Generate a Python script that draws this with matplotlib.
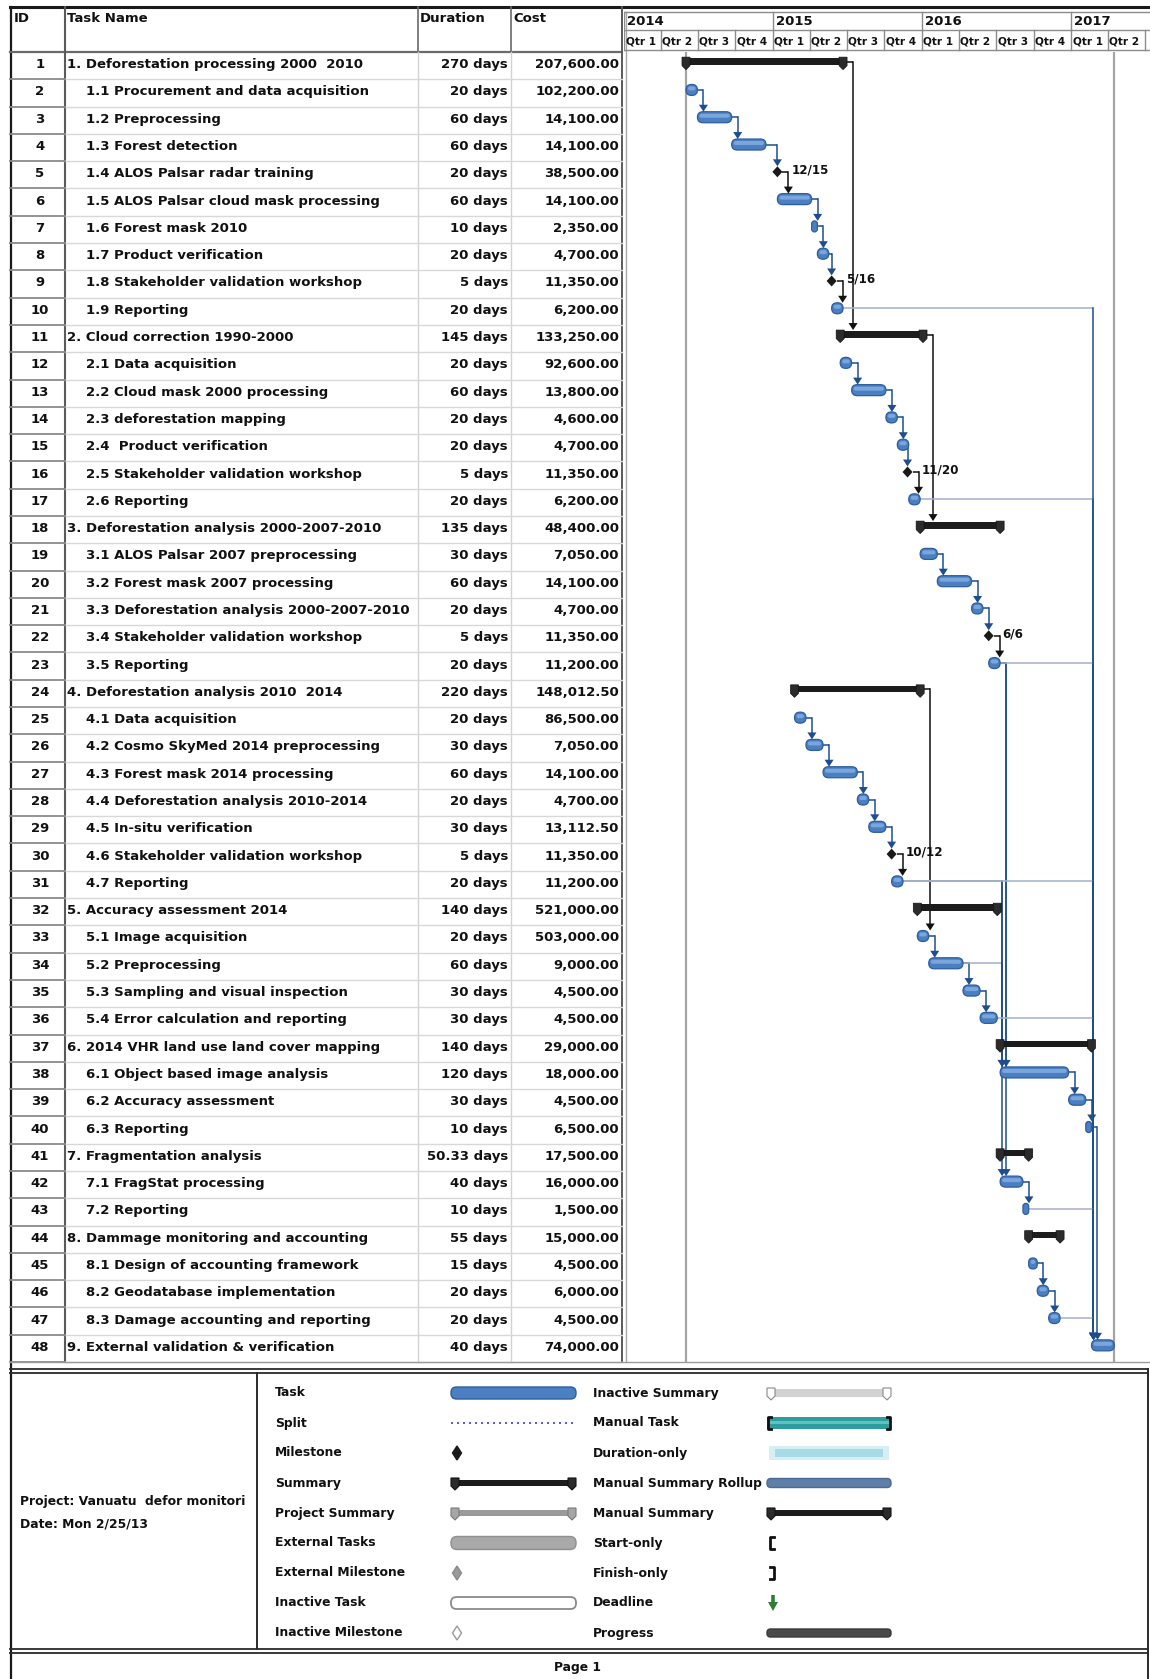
import numpy as np
import matplotlib
matplotlib.use("Agg")
import matplotlib.pyplot as plt
from matplotlib.patches import Polygon, Rectangle, FancyBboxPatch

plt.rcParams['font.family'] = ['DejaVu Sans']

# ---------------- data ----------------
task_names = [
    "1. Deforestation processing 2000  2010",
    "1.1 Procurement and data acquisition",
    "1.2 Preprocessing",
    "1.3 Forest detection",
    "1.4 ALOS Palsar radar training",
    "1.5 ALOS Palsar cloud mask processing",
    "1.6 Forest mask 2010",
    "1.7 Product verification",
    "1.8 Stakeholder validation workshop",
    "1.9 Reporting",
    "2. Cloud correction 1990-2000",
    "2.1 Data acquisition",
    "2.2 Cloud mask 2000 processing",
    "2.3 deforestation mapping",
    "2.4  Product verification",
    "2.5 Stakeholder validation workshop",
    "2.6 Reporting",
    "3. Deforestation analysis 2000-2007-2010",
    "3.1 ALOS Palsar 2007 preprocessing",
    "3.2 Forest mask 2007 processing",
    "3.3 Deforestation analysis 2000-2007-2010",
    "3.4 Stakeholder validation workshop",
    "3.5 Reporting",
    "4. Deforestation analysis 2010  2014",
    "4.1 Data acquisition",
    "4.2 Cosmo SkyMed 2014 preprocessing",
    "4.3 Forest mask 2014 processing",
    "4.4 Deforestation analysis 2010-2014",
    "4.5 In-situ verification",
    "4.6 Stakeholder validation workshop",
    "4.7 Reporting",
    "5. Accuracy assessment 2014",
    "5.1 Image acquisition",
    "5.2 Preprocessing",
    "5.3 Sampling and visual inspection",
    "5.4 Error calculation and reporting",
    "6. 2014 VHR land use land cover mapping",
    "6.1 Object based image analysis",
    "6.2 Accuracy assessment",
    "6.3 Reporting",
    "7. Fragmentation analysis",
    "7.1 FragStat processing",
    "7.2 Reporting",
    "8. Dammage monitoring and accounting",
    "8.1 Design of accounting framework",
    "8.2 Geodatabase implementation",
    "8.3 Damage accounting and reporting",
    "9. External validation & verification",
]
levels = [0, 1, 1, 1, 1, 1, 1, 1, 1, 1,
          0, 1, 1, 1, 1, 1, 1,
          0, 1, 1, 1, 1, 1,
          0, 1, 1, 1, 1, 1, 1, 1,
          0, 1, 1, 1, 1,
          0, 1, 1, 1,
          0, 1, 1,
          0, 1, 1, 1,
          0]
durations = [270, 20, 60, 60, 20, 60, 10, 20, 5, 20,
             145, 20, 60, 20, 20, 5, 20,
             135, 30, 60, 20, 5, 20,
             220, 20, 30, 60, 20, 30, 5, 20,
             140, 20, 60, 30, 30,
             140, 120, 30, 10,
             50.33, 40, 10,
             55, 15, 20, 20,
             40]
costs = [207600.00, 102200.00, 14100.00, 14100.00, 38500.00, 14100.00, 2350.00, 4700.00, 11350.00, 6200.00,
         133250.00, 92600.00, 13800.00, 4600.00, 4700.00, 11350.00, 6200.00,
         48400.00, 7050.00, 14100.00, 4700.00, 11350.00, 11200.00,
         148012.50, 86500.00, 7050.00, 14100.00, 4700.00, 13112.50, 11350.00, 11200.00,
         521000.00, 503000.00, 9000.00, 4500.00, 4500.00,
         29000.00, 18000.00, 4500.00, 6500.00,
         17500.00, 16000.00, 1500.00,
         15000.00, 4500.00, 6000.00, 4500.00,
         74000.00]
# start dates of the detail tasks (summary rows are rolled up from their children)
starts = [None, "2014-06-02", "2014-06-30", "2014-09-22", "2014-12-15", "2015-01-12",
          "2015-04-06", "2015-04-20", "2015-05-16", "2015-05-25",
          None, "2015-06-15", "2015-07-13", "2015-10-05", "2015-11-02", "2015-11-20", "2015-11-30",
          None, "2015-12-28", "2016-02-08", "2016-05-02", "2016-06-06", "2016-06-13",
          None, "2015-02-23", "2015-03-23", "2015-05-04", "2015-07-27", "2015-08-24", "2015-10-12", "2015-10-19",
          None, "2015-12-21", "2016-01-18", "2016-04-11", "2016-05-23",
          None, "2016-07-11", "2016-12-26", "2017-02-06",
          None, "2016-07-11", "2016-09-05",
          None, "2016-09-19", "2016-10-10", "2016-11-07",
          "2017-02-20"]
milestone_ids = [5, 9, 16, 22, 30]
links = [(2, 3), (3, 4), (4, 5), (5, 6), (6, 7), (7, 8), (8, 9), (9, 10),
         (1, 11), (12, 13), (13, 14), (14, 15), (15, 16), (16, 17),
         (11, 18), (19, 20), (20, 21), (21, 22), (22, 23),
         (25, 26), (26, 27), (27, 28), (28, 29), (29, 30), (30, 31),
         (24, 33), (33, 34), (34, 35), (35, 36),
         (23, 38), (31, 38), (34, 38), (23, 42), (31, 42),
         (38, 39), (39, 40), (42, 43), (45, 46), (46, 47),
         (10, 48), (17, 48), (23, 48), (31, 48), (36, 48), (43, 48), (47, 48), (40, 48)]
years = [2014, 2015, 2016, 2017]
quarters = [1, 2, 3, 4]
legend_left = ["Task", "Split", "Milestone", "Summary", "Project Summary",
               "External Tasks", "External Milestone", "Inactive Task", "Inactive Milestone"]
legend_right = ["Inactive Summary", "Manual Task", "Duration-only", "Manual Summary Rollup",
                "Manual Summary", "Start-only", "Finish-only", "Deadline", "Progress"]
project_info = ["Project: Vanuatu  defor monitori", "Date: Mon 2/25/13"]

# ---------------- layout (pixels) ----------------
W, H = 1150, 1679
TOP, HEAD_BOT, BODY_BOT = 7, 52, 1362
NROWS = len(task_names)
ROW_PX = (BODY_BOT - HEAD_BOT) / NROWS
X_LEFT, X_ID, X_NAME, X_DUR, X_COST, X_GANTT = 10, 65, 418, 511, 622, 624
PX_PER_YEAR = 149.0
DPP = 365.25 / PX_PER_YEAR  # days per pixel
FS = 9.5
TXT = dict(fontsize=FS, fontweight='bold', color='#111111')
LTXT = dict(fontsize=8.9, fontweight='bold', color='#111111')

ORIGIN = np.datetime64('2014-01-01')
ids = list(range(1, NROWS + 1))

start_day, finish_day = {}, {}
for k, s, d in zip(ids, starts, durations):
    if s is None:
        continue
    s64 = np.datetime64(s)
    f64 = np.busday_offset(s64, int(d), roll='forward')
    start_day[k] = int((s64 - ORIGIN).astype(int))
    finish_day[k] = int((f64 - ORIGIN).astype(int))

summary_ids = [k for k in ids if starts[k - 1] is None]
for k in summary_ids:
    kids = []
    j = k + 1
    while j <= NROWS and levels[j - 1] > 0:
        kids.append(j)
        j += 1
    s = min(start_day[c] for c in kids)
    f = max(finish_day[c] for c in kids)
    s64 = ORIGIN + np.timedelta64(s, 'D')
    f_dur = int((np.busday_offset(s64, int(durations[k - 1]), roll='forward') - ORIGIN).astype(int))
    start_day[k] = s
    finish_day[k] = max(f, f_dur)


def dx(n):
    return n * DPP


def py(n):
    return n / ROW_PX


def day_of(d):
    return int((np.datetime64(d) - ORIGIN).astype(int))


fig = plt.figure(figsize=(W / 100, H / 100), dpi=100)
page = fig.add_axes([0, 0, 1, 1])
page.set_xlim(0, W)
page.set_ylim(H, 0)
page.axis('off')

gx = fig.add_axes([X_GANTT / W, 1 - BODY_BOT / H, (W - X_GANTT) / W, (BODY_BOT - HEAD_BOT) / H])
gx.set_xlim(0, (W - X_GANTT) * DPP)
gx.set_ylim(NROWS + 0.5, 0.5)
gx.axis('off')

hx = fig.add_axes([X_GANTT / W, 1 - HEAD_BOT / H, (W - X_GANTT) / W, (HEAD_BOT - TOP) / H])
hx.set_xlim(0, (W - X_GANTT) * DPP)
hx.set_ylim(HEAD_BOT, TOP)
hx.axis('off')

# ---------------- table grid ----------------
page.plot([X_LEFT, W], [TOP, TOP], color='#1a1a1a', lw=2.2)
page.plot([X_LEFT + 0.5, X_LEFT + 0.5], [TOP, H], color='#1a1a1a', lw=1.6)
page.plot([X_LEFT, X_COST], [HEAD_BOT, HEAD_BOT], color='#6a6a6a', lw=1.6)
for x in (X_NAME, X_DUR):
    page.plot([x, x], [TOP, HEAD_BOT], color='#6a6a6a', lw=1.2)
    page.plot([x, x], [HEAD_BOT, BODY_BOT], color='#d2d2d2', lw=1.0)
page.plot([X_ID, X_ID], [TOP, BODY_BOT], color='#5a5a5a', lw=1.5)
page.plot([X_COST, X_COST], [TOP, BODY_BOT], color='#5a5a5a', lw=1.4)
page.plot([X_GANTT + 1.5, X_GANTT + 1.5], [12, BODY_BOT], color='#a8a8a8', lw=1.0)
for r in range(1, NROWS + 1):
    y = HEAD_BOT + r * ROW_PX
    page.plot([X_ID, X_COST], [y, y], color='#d8d8d8', lw=1.0)
    page.plot([X_LEFT, X_ID], [y, y], color='#8a8a8a', lw=1.3)
page.plot([X_LEFT, W], [BODY_BOT, BODY_BOT], color='#9a9a9a', lw=1.0)

page.text(14, 19, "ID", va='center', ha='left', **TXT)
page.text(67, 19, "Task Name", va='center', ha='left', **TXT)
page.text(420, 19, "Duration", va='center', ha='left', **TXT)
page.text(513, 19, "Cost", va='center', ha='left', **TXT)

for k, name, lev, d, c in zip(ids, task_names, levels, durations, costs):
    yc = HEAD_BOT + (k - 0.5) * ROW_PX - 1
    page.text(40, yc, str(k), ha='center', va='center', **TXT)
    page.text(67 if lev == 0 else 86, yc, name, ha='left', va='center', **TXT)
    page.text(508, yc, f"{d:g} days", ha='right', va='center', **TXT)
    page.text(619, yc, f"{c:,.2f}", ha='right', va='center', **TXT)

# ---------------- timescale header ----------------
x_edge = (W - X_GANTT) * DPP
for y in (12, 30, 50):
    hx.axhline(y, color='#8c8c8c', lw=1.0)
for yr in years:
    x = day_of(f"{yr}-01-01")
    hx.plot([x, x], [12, 30], color='#8c8c8c', lw=1.0)
    hx.text(x + dx(3), 21.5, str(yr), ha='left', va='center', **TXT)
    for q in quarters:
        xq = day_of(f"{yr}-{3 * q - 2:02d}-01")
        if xq >= x_edge:
            continue
        hx.plot([xq, xq], [30, 50], color='#8c8c8c', lw=1.0)
        if xq + dx(34) < x_edge:
            hx.text(xq + dx(1.5), 41, f"Qtr {q}", ha='left', va='center',
                    fontsize=7.6, fontweight='bold', color='#111111')

# ---------------- gantt body ----------------
gx.axvline(min(start_day.values()), color='#a4a4a4', lw=1.6, zorder=1)
gx.axvline(max(finish_day.values()), color='#a4a4a4', lw=1.6, zorder=1)

BLUE_DARK, BLUE, BLUE_LIGHT = '#2f5e9e', '#4a7fc1', '#7aa6dc'
LINK_BLUE, LINK_FAINT = '#1f4e8f', '#9fb0cc'
CAP = [(-4, -8.5), (4, -8.5), (4, 0), (0, 4), (-4, 0)]
ASPECT = py(1) / dx(1)


def out_point(i):
    if i in milestone_ids:
        return finish_day[i] + dx(5), i + py(-3)
    if i in summary_ids:
        return finish_day[i] + dx(4), i + py(-4)
    return finish_day[i], i + py(-3)


for i, j in links:
    x0, y0 = out_point(i)
    if j in milestone_ids:
        xv = finish_day[j]
    elif start_day[j] - x0 > dx(3):
        xv = start_day[j] + dx(2)
    else:
        xv = x0 + dx(6)
    tip = j + py(-8.5)
    dark = i in milestone_ids or i in summary_ids
    col = '#111111' if dark else LINK_BLUE
    hcol = col if (xv - x0) < dx(20) else ('#555555' if dark else LINK_FAINT)
    gx.plot([x0, xv], [y0, y0], color=hcol, lw=1.1, zorder=2, solid_capstyle='butt')
    gx.plot([xv, xv], [y0, tip - py(6)], color=col, lw=1.1, zorder=2)
    gx.add_patch(Polygon([(xv - dx(4.5), tip - py(7)), (xv + dx(4.5), tip - py(7)), (xv, tip)],
                         closed=True, fc=col, ec='none', zorder=5))


def pill(x0, x1, yc, h_px, fc, ec, lw, z):
    w = max(x1 - x0, dx(4))
    r = min(dx(h_px / 2), w / 2)
    gx.add_patch(FancyBboxPatch((x0, yc - py(h_px / 2)), w, py(h_px),
                                boxstyle=f"round,pad=0,rounding_size={r}", mutation_aspect=ASPECT,
                                fc=fc, ec=ec, lw=lw, zorder=z))


for k in ids:
    if k in summary_ids or k in milestone_ids:
        continue
    s, f = start_day[k], finish_day[k]
    yc = k + py(-3)
    pill(s, f, yc, 11, BLUE, BLUE_DARK, 0.9, 3)
    if f - s > dx(8):
        pill(s + dx(2), f - dx(2), yc - py(1.5), 4, BLUE_LIGHT, 'none', 0, 3.1)

for k in summary_ids:
    s, f = start_day[k], finish_day[k]
    gx.add_patch(Rectangle((s, k + py(-7.5)), f - s, py(6.5), fc='#1c1c1c', ec='none', zorder=3))
    for cx in (s, f):
        gx.add_patch(Polygon([(cx + dx(ox), k + py(oy)) for ox, oy in CAP], closed=True,
                             fc='#2b2b2b', ec='#111111', lw=0.5, zorder=3))

for k in milestone_ids:
    x = finish_day[k]
    yc = k + py(-3)
    gx.add_patch(Polygon([(x - dx(5), yc), (x, yc - py(5.5)), (x + dx(5), yc), (x, yc + py(5.5))],
                         closed=True, fc='#1a1a1a', ec='none', zorder=4))
    s64 = np.datetime64(starts[k - 1]).astype(object)
    gx.text(x + dx(14), yc - py(2), f"{s64.month}/{s64.day}", ha='left', va='center',
            fontsize=8.6, fontweight='bold', color='#111111', zorder=6)

# ---------------- legend / footer ----------------
LG_TOP, LG_BOT, X_RIGHT, X_DIV = 1371, 1651, 1148, 257
for y in (LG_TOP - 2, LG_TOP + 2):
    page.plot([X_LEFT, X_RIGHT], [y, y], color='#2a2a2a', lw=1.3)
for y in (LG_BOT - 2, LG_BOT + 2):
    page.plot([X_LEFT, X_RIGHT], [y, y], color='#2a2a2a', lw=1.3)
page.plot([X_RIGHT, X_RIGHT], [LG_TOP - 2, H], color='#2a2a2a', lw=1.4)
page.plot([X_DIV, X_DIV], [LG_TOP + 2, LG_BOT - 2], color='#2a2a2a', lw=1.4)
page.text(20, 1502, project_info[0], ha='left', va='center', **LTXT)
page.text(20, 1524, project_info[1], ha='left', va='center', **LTXT)
page.text(578, 1668, "Page 1", ha='center', va='center', **LTXT)


def rbar(x0, x1, y, h, fc, ec, lw=1.0):
    r = h / 2 - 0.5
    page.add_patch(FancyBboxPatch((x0 + r, y - h / 2 + r), x1 - x0 - 2 * r, h - 2 * r,
                                  boxstyle=f"round,pad={r}", fc=fc, ec=ec, lw=lw))


def sbar(x0, x1, y, fc, cap_fc, cap_ec, h=6):
    page.add_patch(Rectangle((x0, y - h / 2), x1 - x0, h, fc=fc, ec='none'))
    for cx in (x0 + 4, x1 - 4):
        page.add_patch(Polygon([(cx - 4, y - 5), (cx + 4, y - 5), (cx + 4, y + 3), (cx, y + 7), (cx - 4, y + 3)],
                               closed=True, fc=cap_fc, ec=cap_ec, lw=0.8))


def diamond(x, y, fc, ec):
    page.add_patch(Polygon([(x - 4.5, y), (x, y - 7), (x + 4.5, y), (x, y + 7)], closed=True,
                           fc=fc, ec=ec, lw=1.0))


def draw_symbol(name, x0, x1, y):
    if name == "Task":
        rbar(x0, x1, y, 12, '#4a7fc1', '#2f5e9e')
    elif name == "Split":
        page.plot([x0, x1], [y, y], color='#3b3bd6', lw=1.2, linestyle=(0, (1.2, 2.4)))
    elif name == "Milestone":
        diamond(x0 + 6, y, '#1a1a1a', '#1a1a1a')
    elif name in ("Summary", "Manual Summary"):
        sbar(x0, x1, y, '#1c1c1c', '#2b2b2b', '#111111')
    elif name == "Project Summary":
        sbar(x0, x1, y, '#9a9a9a', '#a6a6a6', '#7a7a7a')
    elif name == "External Tasks":
        rbar(x0, x1, y, 13, '#a9a9a9', '#8f8f8f')
    elif name == "External Milestone":
        diamond(x0 + 6, y, '#9a9a9a', '#8a8a8a')
    elif name == "Inactive Task":
        rbar(x0, x1, y, 12, 'white', '#8a8a8a', lw=1.3)
    elif name == "Inactive Milestone":
        diamond(x0 + 6, y, 'white', '#9a9a9a')
    elif name == "Inactive Summary":
        sbar(x0, x1, y, '#d2d2d2', 'white', '#8a8a8a', h=8)
    elif name == "Manual Task":
        page.add_patch(Rectangle((x0, y - 6), x1 - x0, 12, fc='#2f9c9e', ec='none'))
        page.add_patch(Rectangle((x0, y - 2), x1 - x0, 3, fc='#5cc2c4', ec='none'))
        page.plot([x0 + 4, x0 + 1, x0 + 1, x0 + 4], [y - 6, y - 6, y + 6, y + 6], color='#111111', lw=2)
        page.plot([x1 - 4, x1 - 1, x1 - 1, x1 - 4], [y - 6, y - 6, y + 6, y + 6], color='#111111', lw=2)
    elif name == "Duration-only":
        page.add_patch(Rectangle((x0 + 2, y - 7), x1 - x0 - 4, 14, fc='#d6eff4', ec='none'))
        page.add_patch(Rectangle((x0 + 8, y - 4), x1 - x0 - 16, 8, fc='#a9dbe6', ec='none'))
    elif name == "Manual Summary Rollup":
        rbar(x0, x1, y, 9, '#5f7ea8', '#4d6a92')
    elif name == "Start-only":
        page.plot([x0 + 7, x0 + 3, x0 + 3, x0 + 7], [y - 6, y - 6, y + 6, y + 6], color='#111111', lw=2)
    elif name == "Finish-only":
        page.plot([x0 + 3, x0 + 7, x0 + 7, x0 + 3], [y - 6, y - 6, y + 6, y + 6], color='#111111', lw=2)
    elif name == "Deadline":
        x = x0 + 6
        page.add_patch(Polygon([(x - 1.8, y - 8), (x + 1.8, y - 8), (x + 1.8, y - 1), (x + 5, y - 1),
                                (x, y + 8), (x - 5, y - 1), (x - 1.8, y - 1)], closed=True,
                               fc='#2e7d32', ec='none'))
    elif name == "Progress":
        rbar(x0, x1, y, 8, '#4a4a4a', '#3a3a3a')


for r, (left, right) in enumerate(zip(legend_left, legend_right)):
    y = 1393 + 30 * r
    page.text(275, y, left, ha='left', va='center', **LTXT)
    draw_symbol(left, 451, 576, y)
    page.text(593, y, right, ha='left', va='center', **LTXT)
    draw_symbol(right, 767, 891, y)

fig.savefig("out.png", dpi=100)
